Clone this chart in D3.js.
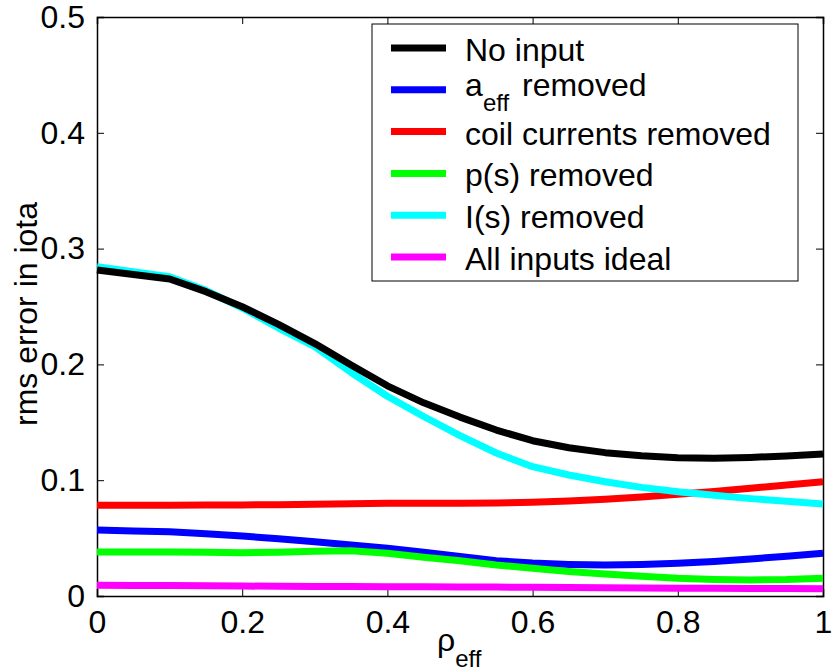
<!DOCTYPE html>
<html>
<head>
<meta charset="utf-8">
<script src="https://cdn.jsdelivr.net/npm/d3@7"></script>
<style>
  body { margin: 0; background: #fff; }
  text { font-family: "Liberation Sans", Arial, sans-serif; fill: #000; }
</style>
</head>
<body>
<div class="chart"></div>
<script>
// rho_eff sample points
var rho = [0, 0.05, 0.1, 0.15, 0.2, 0.25, 0.3, 0.35, 0.4, 0.45, 0.5,
           0.55, 0.6, 0.65, 0.7, 0.75, 0.8, 0.85, 0.9, 0.95, 1];

// rms error in iota for each case
var noInput = [0.2815, 0.2776, 0.2737, 0.2628, 0.2498, 0.2345, 0.2180, 0.1995, 0.1815, 0.1668, 0.1545,
               0.1433, 0.1341, 0.1280, 0.1238, 0.1212, 0.1194, 0.1189, 0.1197, 0.1209, 0.1226];
var aeffRemoved = [0.0570, 0.0562, 0.0555, 0.0538, 0.0518, 0.0494, 0.0469, 0.0441, 0.0412, 0.0378, 0.0342,
                   0.0305, 0.0284, 0.0273, 0.0268, 0.0272, 0.0282, 0.0298, 0.0320, 0.0343, 0.0369];
var coilRemoved = [0.0783, 0.0783, 0.0784, 0.0785, 0.0786, 0.0789, 0.0793, 0.0796, 0.0800, 0.0801, 0.0802,
                   0.0804, 0.0809, 0.0820, 0.0835, 0.0855, 0.0878, 0.0903, 0.0930, 0.0958, 0.0987];
var pRemoved = [0.0380, 0.0380, 0.0380, 0.0377, 0.0374, 0.0378, 0.0386, 0.0390, 0.0369, 0.0334, 0.0305,
                0.0268, 0.0239, 0.0212, 0.0190, 0.0170, 0.0153, 0.0143, 0.0138, 0.0142, 0.0153];
var iRemoved = [0.2844, 0.2800, 0.2757, 0.2640, 0.2487, 0.2314, 0.2153, 0.1930, 0.1725, 0.1550, 0.1385,
                0.1235, 0.1117, 0.1045, 0.0987, 0.0938, 0.0901, 0.0870, 0.0841, 0.0818, 0.0794];
var allIdeal = [0.0092, 0.0091, 0.0090, 0.0088, 0.0086, 0.0084, 0.0082, 0.0081, 0.0080, 0.0079, 0.0078,
                0.0077, 0.0075, 0.0073, 0.0071, 0.0069, 0.0068, 0.0066, 0.0065, 0.0064, 0.0063];

var xTicks = [0, 0.2, 0.4, 0.6, 0.8, 1];
var yTicks = [0, 0.1, 0.2, 0.3, 0.4, 0.5];

// legend order
var legendNames = ["No input", "a_eff removed", "coil currents removed", "p(s) removed", "I(s) removed", "All inputs ideal"];
var legendColors = ["#000000", "#0000ff", "#ff0000", "#00ff00", "#00ffff", "#ff00ff"];
var legendValues = [noInput, aeffRemoved, coilRemoved, pRemoved, iRemoved, allIdeal];

// draw order (later on top)
var drawOrder = [2, 1, 3, 4, 0, 5];

var svgWidth = 834;
var svgHeight = 671;
var margin = { top: 17, right: 11, bottom: 75, left: 97 };
var width = svgWidth - margin.left - margin.right;
var height = svgHeight - margin.top - margin.bottom;

var svg = d3.select(".chart")
  .append("svg")
  .attr("width", svgWidth)
  .attr("height", svgHeight);

var chartGroup = svg.append("g")
  .attr("transform", `translate(${margin.left}, ${margin.top})`);

var xScale = d3.scaleLinear().domain([0, 1]).range([0, width]);
var yScale = d3.scaleLinear().domain([0, 0.5]).range([height, 0]);

var fmt = function(d) { return d === 0 ? "0" : d === 1 ? "1" : d3.format(".1f")(d); };

// axes, ticks pointing inward on all four sides
var bottomAxis = d3.axisBottom(xScale).tickValues(xTicks).tickSize(-7).tickPadding(14).tickFormat(fmt);
var topAxis = d3.axisTop(xScale).tickValues(xTicks).tickSize(-7).tickFormat("");
var leftAxis = d3.axisLeft(yScale).tickValues(yTicks).tickSize(-7).tickPadding(12).tickFormat(fmt);
var rightAxis = d3.axisRight(yScale).tickValues(yTicks).tickSize(-7).tickFormat("");

function styleAxis(g) {
  g.select(".domain").attr("stroke", "#000").attr("stroke-width", 1.5);
  g.selectAll(".tick line").attr("stroke", "#000").attr("stroke-width", 1);
  g.selectAll("text").attr("font-size", "32px").attr("fill", "#000")
    .style("font-family", "'Liberation Sans', Arial, sans-serif");
}

chartGroup.append("g").attr("transform", `translate(0, ${height})`).call(bottomAxis).call(styleAxis);
chartGroup.append("g").call(topAxis).call(styleAxis);
chartGroup.append("g").call(leftAxis).call(styleAxis);
chartGroup.append("g").attr("transform", `translate(${width}, 0)`).call(rightAxis).call(styleAxis);

// lines
var line = d3.line()
  .x(function(d, i) { return xScale(rho[i]); })
  .y(function(d) { return yScale(d); });

drawOrder.forEach(function(k) {
  chartGroup.append("path")
    .datum(legendValues[k])
    .attr("fill", "none")
    .attr("stroke", legendColors[k])
    .attr("stroke-width", 7)
    .attr("stroke-linejoin", "round")
    .attr("d", line);
});

// legend
var legend = svg.append("g").attr("transform", "translate(372, 24)");
legend.append("rect")
  .attr("width", 426)
  .attr("height", 257)
  .attr("fill", "#fff")
  .attr("stroke", "#000")
  .attr("stroke-width", 1);

legendNames.forEach(function(name, i) {
  var cy = 24 + i * 41.8;
  var row = legend.append("g");
  row.append("line")
    .attr("x1", 19).attr("x2", 74)
    .attr("y1", cy).attr("y2", cy)
    .attr("stroke", legendColors[i])
    .attr("stroke-width", 7);
  if (name === "a_eff removed") {
    // base letter, subscript and rest as separate texts
    row.append("text").attr("x", 93).attr("y", cy + 6).attr("font-size", "32px").text("a");
    row.append("text").attr("x", 111).attr("y", cy + 21).attr("font-size", "24px").text("eff");
    row.append("text").attr("x", 150).attr("y", cy + 6).attr("font-size", "32px").text("removed");
  } else {
    row.append("text")
      .attr("x", 93)
      .attr("y", cy + 13)
      .attr("font-size", "32px")
      .text(name);
  }
});

// y axis label
svg.append("text")
  .attr("transform", "rotate(-90)")
  .attr("x", -314)
  .attr("y", 37)
  .attr("text-anchor", "middle")
  .attr("font-size", "32px")
  .text("rms error in iota");

// x axis label
var xl = svg.append("text")
  .attr("x", 437)
  .attr("y", 651)
  .attr("font-size", "32px");
xl.append("tspan").text("ρ");
xl.append("tspan").attr("font-size", "24px").attr("dy", 16).text("eff");
</script>
</body>
</html>
